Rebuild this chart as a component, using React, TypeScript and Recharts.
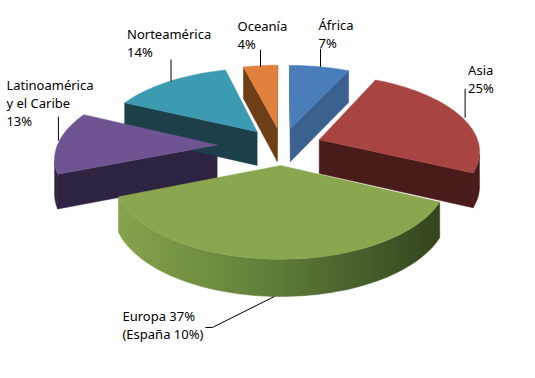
import React from 'react';
import { PieChart, Pie } from 'recharts';

const regions = ['África', 'Asia', 'Europa', 'Latinoamérica y el Caribe', 'Norteamérica', 'Oceanía'];
const shares = [7, 25, 37, 13, 14, 4];
const labelText = [
  ['África', '7%'],
  ['Asia', '25%'],
  ['Europa 37%', '(España 10%)'],
  ['Latinoamérica', 'y el Caribe', '13%'],
  ['Norteamérica', '14%'],
  ['Oceanía', '4%'],
];

// styling
const topColors = ['#4a7ebb', '#a84543', '#8aa64f', '#6e5592', '#3c9bb0', '#e0823e'];
const sideColors = ['#3a6190', '#4a1b1b', 'url(#euroSide)', '#2e2442', '#1d3f49', '#6e3e17'];
const EXPLODE = [40, 40, 40, 65, 40, 40];
// label placement relative to the slice anchor: text origin, leader start/points, bottom edge or top
const labelPos = [
  { tx: -1, ty: -37, start: [1, 0], line: [[1, -18]], bottom: false },
  { tx: 8, ty: -41, start: [5, 2], line: [[5, -27]], bottom: false },
  { tx: -152, ty: 25, start: [0, 0], line: [[-62, 31], [-69, 31]], bottom: true },
  { tx: -52, ty: -53, start: [0, -2], line: [[0, -26]], bottom: false },
  { tx: -42, ty: -43, start: [2, 0], line: [[2, -22]], bottom: false },
  { tx: -23, ty: -35, start: [0, 1], line: [[0, -16]], bottom: false },
];

const CX = 282;
const CY = 146;
const R = 160;
const TILT = 0.472;
const DIST = 1200;
const DEPTH = 34;

const data = regions.map((name, i) => ({ name, value: shares[i] }));

const rad = (d: number) => (d * Math.PI) / 180;

const project = (cx: number, cy: number, X: number, Z: number, h: number) => {
  const p = DIST / (DIST - Z);
  return [cx + X * p, cy + Z * TILT * p + h * Math.sqrt(p)];
};

const geom = (props: any) => {
  const i = props.index;
  const t1 = 90 - props.startAngle;
  const t2 = 90 - props.endAngle;
  const tm = (t1 + t2) / 2;
  const e = EXPLODE[i];
  const ox = e * Math.sin(rad(tm));
  const oz = -e * Math.cos(rad(tm));
  const r = props.outerRadius;
  const n = Math.max(2, Math.ceil((t2 - t1) / 2));
  const arc: number[][] = [];
  for (let k = 0; k <= n; k++) {
    const th = t1 + ((t2 - t1) * k) / n;
    arc.push([ox + r * Math.sin(rad(th)), oz - r * Math.cos(rad(th)), th]);
  }
  return { i, t1, t2, tm, ox, oz, r, arc };
};

const toPath = (pts: number[][]) =>
  'M' + pts.map((p) => p[0].toFixed(2) + ',' + p[1].toFixed(2)).join('L') + 'Z';

const renderSides = (props: any) => {
  const g = geom(props);
  const top = (X: number, Z: number) => project(props.cx, props.cy, X, Z, 0);
  const bot = (X: number, Z: number) => project(props.cx, props.cy, X, Z, DEPTH);
  const vis = (nx: number, nz: number, X: number, Z: number) => nx * (0 - X) + nz * (DIST - Z) > 0;
  const fill = sideColors[g.i];
  const faces: string[] = [];
  const first = g.arc[0];
  const last = g.arc[g.arc.length - 1];
  if (vis(-Math.cos(rad(g.t1)), -Math.sin(rad(g.t1)), g.ox, g.oz)) {
    faces.push(toPath([top(g.ox, g.oz), top(first[0], first[1]), bot(first[0], first[1]), bot(g.ox, g.oz)]));
  }
  if (vis(Math.cos(rad(g.t2)), Math.sin(rad(g.t2)), g.ox, g.oz)) {
    faces.push(toPath([top(g.ox, g.oz), top(last[0], last[1]), bot(last[0], last[1]), bot(g.ox, g.oz)]));
  }
  const front = g.arc.filter((P) => vis(Math.sin(rad(P[2])), -Math.cos(rad(P[2])), P[0], P[1]));
  if (front.length > 1) {
    faces.push(
      toPath([
        ...front.map((P) => top(P[0], P[1])),
        ...front.slice().reverse().map((P) => bot(P[0], P[1])),
      ])
    );
  }
  return (
    <g key={'side' + g.i}>
      {faces.map((d, k) => (
        <path key={k} d={d} fill={fill} stroke={fill} strokeWidth={0.5} />
      ))}
    </g>
  );
};

const renderTops = (props: any) => {
  const g = geom(props);
  const pts = [[g.ox, g.oz], ...g.arc].map((P) => project(props.cx, props.cy, P[0], P[1], 0));
  return <path key={'top' + g.i} d={toPath(pts)} fill={topColors[g.i]} stroke={topColors[g.i]} strokeWidth={0.5} />;
};

const renderLabels = (props: any) => {
  const g = geom(props);
  const lp = labelPos[g.i];
  const X = g.ox + g.r * Math.sin(rad(g.tm));
  const Z = g.oz - g.r * Math.cos(rad(g.tm));
  const [ax, ay] = project(props.cx, props.cy, X, Z, lp.bottom ? DEPTH : 0);
  const linePts = [lp.start, ...lp.line].map((d) => [ax + d[0], ay + d[1]]);
  return (
    <g key={'label' + g.i}>
      <polyline
        points={linePts.map((p) => p[0] + ',' + p[1]).join(' ')}
        fill="none"
        stroke="#000"
        strokeWidth={1}
      />
      <text x={ax + lp.tx} y={ay + lp.ty} fontSize={13} fontFamily="Noto Sans" fill="#000">
        {labelText[g.i].map((t, k) => (
          <tspan key={k} x={ax + lp.tx} dy={k === 0 ? 0 : 18}>
            {t}
          </tspan>
        ))}
      </text>
    </g>
  );
};

const pieProps = {
  data,
  dataKey: 'value',
  nameKey: 'name',
  cx: CX,
  cy: CY,
  outerRadius: R,
  startAngle: 90,
  endAngle: -270,
  fill: 'none',
  stroke: 'none',
  labelLine: false,
  isAnimationActive: false,
};

export default function App() {
  return (
    <div style={{ position: 'absolute', left: 0, top: 0, background: '#fff' }}>
      <PieChart width={535} height={378} margin={{ top: 0, right: 0, bottom: 0, left: 0 }}>
        <defs>
          <linearGradient id="euroSide" x1="0" y1="0" x2="1" y2="0">
            <stop offset="0%" stopColor="#87a34d" />
            <stop offset="45%" stopColor="#62803a" />
            <stop offset="100%" stopColor="#34441e" />
          </linearGradient>
        </defs>
        <Pie {...pieProps} label={renderSides} />
        <Pie {...pieProps} label={renderTops} />
        <Pie {...pieProps} label={renderLabels} />
      </PieChart>
    </div>
  );
}
